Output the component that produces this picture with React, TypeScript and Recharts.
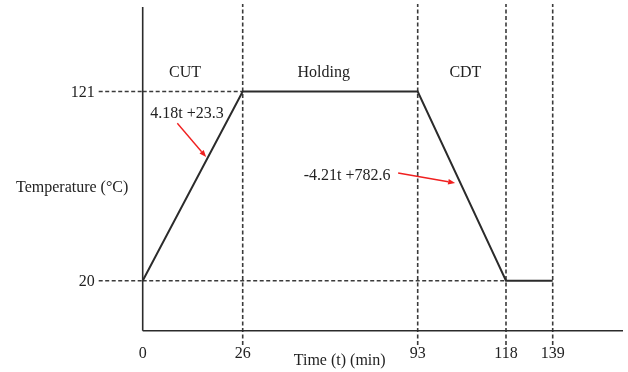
import React from 'react';
import { LineChart, Line, XAxis, YAxis, ReferenceLine, ReferenceDot } from 'recharts';

// retort temperature profile: come-up, holding, come-down
const timePoints = [0, 26, 93, 118, 139];
const temperatures = [20, 121, 121, 20, 20];
const timeTickLabels = ['0', '26', '93', '118', '139'];
const tempTicks = [20, 121];
const phaseNames = ['CUT', 'Holding', 'CDT'];
const phaseLabelTimes = [11, 57, 106.5];
const phaseLabelTemp = 132;
const equationTexts = ['4.18t +23.3', '-4.21t +782.6'];
const equationTimes = [11.5, 66];
const equationTemps = [110, 77];
const arrowFromTimes = [9, 85.5];
const arrowFromTemps = [104, 77.5];
const arrowToTimes = [16.5, 103.6];
const arrowToTemps = [86, 72.2];

const data = timePoints.map((t, i) => ({ t, temp: temperatures[i] }));

// time axis is schematic, every phase gets its own stretch of the axis
const AXIS_BREAKS = [0, 26, 93, 118, 139, 157];
const AXIS_WIDTHS = [100, 175, 88.3, 46.7, 70.3];
const AXIS_END = AXIS_WIDTHS.reduce((a, b) => a + b, 0);

const warp = (t: number) => {
  let acc = 0;
  for (let i = 0; i < AXIS_WIDTHS.length; i++) {
    const a = AXIS_BREAKS[i];
    const b = AXIS_BREAKS[i + 1];
    if (t <= b || i === AXIS_WIDTHS.length - 1) {
      return acc + ((t - a) / (b - a)) * AXIS_WIDTHS[i];
    }
    acc += AXIS_WIDTHS[i];
  }
  return acc;
};

const INK = '#2b2b2b';
const DASH_INK = '#3a3a3a';
const FONT = '"Liberation Serif", "Times New Roman", serif';
const DASH = '4 2.5';

const Arrow = (props: any) => {
  const { x1, y1, x2, y2 } = props;
  const dx = x2 - x1;
  const dy = y2 - y1;
  const len = Math.hypot(dx, dy) || 1;
  const ux = dx / len;
  const uy = dy / len;
  const head = 7;
  const half = 2.8;
  const bx = x2 - ux * head;
  const by = y2 - uy * head;
  const pts = `${x2},${y2} ${bx - uy * half},${by + ux * half} ${bx + uy * half},${by - ux * half}`;
  return (
    <g>
      <line x1={x1} y1={y1} x2={bx} y2={by} stroke="#f02020" strokeWidth={1.4} />
      <polygon points={pts} fill="#f02020" />
    </g>
  );
};

const YTitle = (props: any) => {
  const vb = props.viewBox;
  return (
    <text
      x={vb.x}
      y={vb.y + vb.height / 2 + 18}
      dominantBaseline="central"
      fontFamily={FONT}
      fontSize={16}
      fill="#222"
    >
      Temperature (°C)
    </text>
  );
};

const XTitle = (props: any) => {
  const vb = props.viewBox;
  return (
    <text
      x={vb.x + 197}
      y={vb.y + 29}
      textAnchor="middle"
      dominantBaseline="central"
      fontFamily={FONT}
      fontSize={16}
      fill="#222"
    >
      Time (t) (min)
    </text>
  );
};

export default function App() {
  const tickStyle = { fontSize: 16, fill: '#222', fontFamily: FONT };
  return (
    <div style={{ position: 'fixed', left: 0, top: 0, fontFamily: FONT }}>
      <LineChart
        width={628}
        height={372}
        data={data}
        margin={{ top: 7, right: 5, bottom: 11.3, left: 16 }}
      >
        <XAxis
          type="number"
          dataKey={(d: any) => warp(d.t)}
          domain={[0, AXIS_END]}
          ticks={timePoints.map(warp)}
          tickFormatter={(v: number) => {
            const i = timePoints.findIndex((t) => Math.abs(warp(t) - v) < 0.01);
            return i >= 0 ? timeTickLabels[i] : '';
          }}
          tick={tickStyle}
          tickLine={false}
          tickMargin={10}
          axisLine={{ stroke: INK, strokeWidth: 1.6 }}
          height={30}
          label={(p: any) => <XTitle {...p} />}
        />
        <YAxis
          type="number"
          domain={[-6.7, 166.1]}
          ticks={tempTicks}
          width={126.7}
          tick={tickStyle}
          tickSize={44}
          tickMargin={4}
          tickLine={{ stroke: DASH_INK, strokeWidth: 1.6, strokeDasharray: DASH }}
          axisLine={{ stroke: INK, strokeWidth: 1.6 }}
          label={(p: any) => <YTitle {...p} />}
        />

        {timePoints.slice(1).map((t) => (
          <ReferenceLine
            key={`v-${t}`}
            segment={[
              { x: warp(t), y: -14.3 },
              { x: warp(t), y: 167.7 },
            ]}
            stroke={DASH_INK}
            strokeWidth={1.6}
            strokeDasharray={DASH}
            ifOverflow="visible"
          />
        ))}
        <ReferenceLine
          segment={[
            { x: warp(timePoints[0]), y: temperatures[1] },
            { x: warp(timePoints[1]), y: temperatures[1] },
          ]}
          stroke={DASH_INK}
          strokeWidth={1.6}
          strokeDasharray={DASH}
          ifOverflow="visible"
        />
        <ReferenceLine
          segment={[
            { x: warp(timePoints[0]), y: temperatures[0] },
            { x: warp(timePoints[3]), y: temperatures[0] },
          ]}
          stroke={DASH_INK}
          strokeWidth={1.6}
          strokeDasharray={DASH}
          ifOverflow="visible"
        />

        {phaseNames.map((name, i) => (
          <ReferenceDot
            key={name}
            x={warp(phaseLabelTimes[i])}
            y={phaseLabelTemp}
            r={0}
            stroke="none"
            fill="none"
            label={{ value: name, position: 'center', fontSize: 16, fill: '#222', fontFamily: FONT }}
          />
        ))}
        {equationTexts.map((txt, i) => (
          <ReferenceDot
            key={txt}
            x={warp(equationTimes[i])}
            y={equationTemps[i]}
            r={0}
            stroke="none"
            fill="none"
            label={{ value: txt, position: 'center', fontSize: 16, fill: '#222', fontFamily: FONT }}
          />
        ))}
        {arrowFromTimes.map((t, i) => (
          <ReferenceLine
            key={`arrow-${i}`}
            segment={[
              { x: warp(t), y: arrowFromTemps[i] },
              { x: warp(arrowToTimes[i]), y: arrowToTemps[i] },
            ]}
            ifOverflow="visible"
            shape={(p: any) => <Arrow {...p} />}
          />
        ))}

        <Line
          type="linear"
          dataKey="temp"
          stroke={INK}
          strokeWidth={2}
          dot={false}
          isAnimationActive={false}
        />
      </LineChart>
    </div>
  );
}
